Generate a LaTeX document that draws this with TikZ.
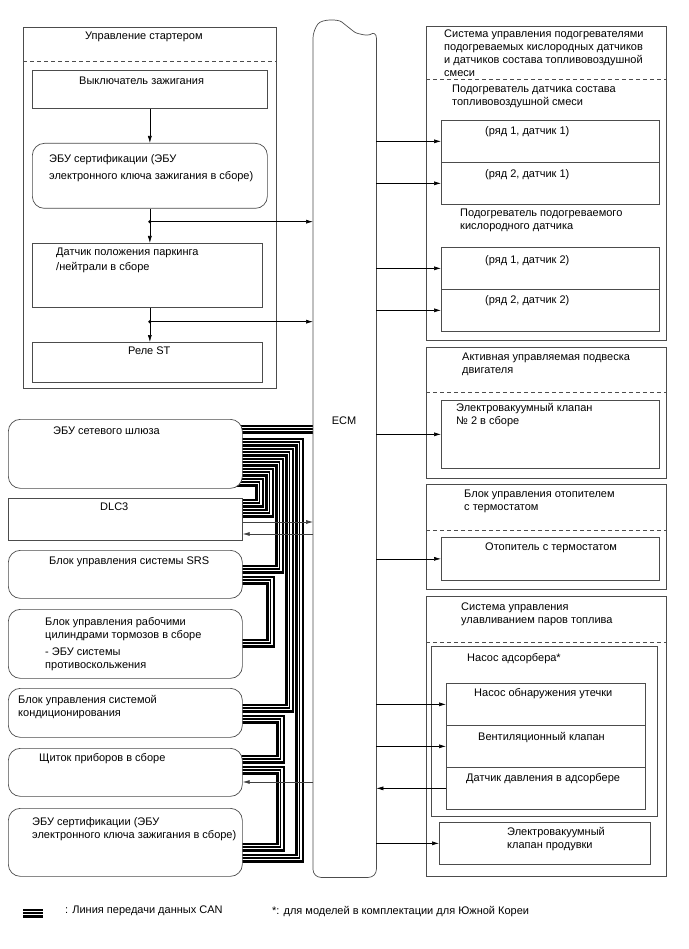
\documentclass[tikz,border=0pt]{standalone}
\usepackage{fontspec}
\setmainfont{Liberation Sans}
\usetikzlibrary{arrows.meta,backgrounds}

\begin{document}
\begin{tikzpicture}[
  x=1pt, y=-1pt,
  font=\fontsize{11}{13}\selectfont,
  box/.style={draw=black!70, line width=0.7pt, fill=white, inner sep=0pt, anchor=north west},
  rbox/.style={box, rounded corners=12pt},
  txt/.style={inner sep=0pt, anchor=north west, align=left},
  divider/.style={draw=black!70, line width=0.7pt, dash pattern=on 4pt off 3pt},
  arrow/.style={-{Latex[length=7pt,width=4pt]}, line width=0.6pt},
  can/.style={line width=9pt, postaction={draw=white, line width=4.4pt},
              postaction={draw=black, line width=1.3pt}}
]
  \useasboundingbox (0,0) rectangle (688,949);

  % starter control
  \node[box, minimum width=253pt, minimum height=361pt] (start) at (23,27) {};
  \node[txt] (start-t) at (85,32) {Управление стартером};
  \draw[divider] ([yshift=-34pt]start.north west) -- ([yshift=-34pt]start.north east);
  \node[box, minimum width=235pt, minimum height=38pt] (ign) at (32,70) {};
  \node[txt] (ign-t) at (79,77) {Выключатель зажигания};
  \node[rbox, minimum width=235pt, minimum height=65pt] (cert1) at (32,143) {};
  \node[txt] (cert1-t) at (49,154) {ЭБУ сертификации (ЭБУ\\[4pt]электронного ключа зажигания в сборе)};
  \node[box, minimum width=230pt, minimum height=64pt] (park) at (32,243) {};
  \node[txt] (park-t) at (56,248) {Датчик положения паркинга\\[2pt]/нейтрали в сборе};
  \node[box, minimum width=230pt, minimum height=40pt] (relay) at (32,342) {};
  \node[txt] (relay-t) at (128,347) {Реле ST};

  % ECM
  \node[inner sep=0pt, minimum width=63pt, minimum height=847pt, anchor=north west] (ecm) at (313,30) {};
  \draw[box, rounded corners=8pt] (ecm.north west) .. controls (322,19) and (338,19) .. (348,27)
    .. controls (357,34) and (368,36) .. (ecm.north east) -- (ecm.south east) -- (ecm.south west) -- cycle;
  \node (ecm-t) at (344,421) {ECM};

  % heater control
  \node[box, minimum width=240pt, minimum height=314pt] (htr) at (426,26) {};
  \node[txt] (htr-t) at (444,30) {Система управления подогревателями\\подогреваемых кислородных датчиков\\и датчиков состава топливовоздушной\\смеси};
  \draw[divider] ([yshift=-53pt]htr.north west) -- ([yshift=-53pt]htr.north east);
  \node[txt] (afs-t) at (452,85) {Подогреватель датчика состава\\топливовоздушной смеси};
  \node[box, minimum width=218pt, minimum height=42pt] (r11) at (441,120) {};
  \node[txt] (r11-t) at (485,126) {(ряд 1, датчик 1)};
  \node[box, minimum width=218pt, minimum height=42pt] (r21) at (441,162) {};
  \node[txt] (r21-t) at (485,169) {(ряд 2, датчик 1)};
  \node[txt] (ho2-t) at (460,209) {Подогреватель подогреваемого\\кислородного датчика};
  \node[box, minimum width=218pt, minimum height=42pt] (r12) at (441,247) {};
  \node[txt] (r12-t) at (485,255) {(ряд 1, датчик 2)};
  \node[box, minimum width=218pt, minimum height=42pt] (r22) at (441,289) {};
  \node[txt] (r22-t) at (485,295) {(ряд 2, датчик 2)};

  % engine mount
  \node[box, minimum width=240pt, minimum height=131pt] (acm) at (426,347) {};
  \node[txt] (acm-t) at (462,353) {Активная управляемая подвеска\\двигателя};
  \draw[divider] ([yshift=-45pt]acm.north west) -- ([yshift=-45pt]acm.north east);
  \node[box, minimum width=218pt, minimum height=68pt] (vsv2) at (441,400) {};
  \node[txt] (vsv2-t) at (456,403) {Электровакуумный клапан\\№ 2 в сборе};

  % thermostat heater
  \node[box, minimum width=240pt, minimum height=105pt] (thc) at (426,484) {};
  \node[txt] (thc-t) at (464,490) {Блок управления отопителем\\с термостатом};
  \draw[divider] ([yshift=-46pt]thc.north west) -- ([yshift=-46pt]thc.north east);
  \node[box, minimum width=218pt, minimum height=43pt] (thh) at (441,537) {};
  \node[txt] (thh-t) at (485,543) {Отопитель с термостатом};

  % evap control
  \node[box, minimum width=240pt, minimum height=280pt] (evap) at (426,596) {};
  \node[txt] (evap-t) at (461,603) {Система управления\\улавливанием паров топлива};
  \draw[divider] ([yshift=-46pt]evap.north west) -- ([yshift=-46pt]evap.north east);
  \node[box, minimum width=226pt, minimum height=170pt] (cpump) at (431,646) {};
  \node[txt] (cpump-t) at (467,653) {Насос адсорбера*};
  \node[box, minimum width=199pt, minimum height=42pt] (leak) at (446,683) {};
  \node[txt] (leak-t) at (474,688) {Насос обнаружения утечки};
  \node[box, minimum width=199pt, minimum height=42pt] (vent) at (446,725) {};
  \node[txt] (vent-t) at (478,732) {Вентиляционный клапан};
  \node[box, minimum width=199pt, minimum height=42pt] (press) at (446,767) {};
  \node[txt] (press-t) at (466,773) {Датчик давления в адсорбере};
  \node[box, minimum width=211pt, minimum height=42pt] (purge) at (439,822) {};
  \node[txt] (purge-t) at (507,827) {Электровакуумный\\клапан продувки};

  % CAN nodes
  \node[rbox, minimum width=234pt, minimum height=69pt] (gw) at (8,419) {};
  \node[txt] (gw-t) at (53,427) {ЭБУ сетевого шлюза};
  \node[box, minimum width=234pt, minimum height=42pt] (dlc) at (8,498) {};
  \node[txt] (dlc-t) at (100,503) {DLC3};
  \node[rbox, minimum width=234pt, minimum height=48pt] (srs) at (8,550) {};
  \node[txt] (srs-t) at (49,557) {Блок управления системы SRS};
  \node[rbox, minimum width=234pt, minimum height=69pt] (abs) at (8,609) {};
  \node[txt] (abs-t) at (45,617) {Блок управления рабочими\\цилиндрами тормозов в сборе\\[4pt]- ЭБУ системы\\противоскольжения};
  \node[rbox, minimum width=234pt, minimum height=49pt] (ac) at (8,688) {};
  \node[txt] (ac-t) at (18,695) {Блок управления системой\\кондиционирования};
  \node[rbox, minimum width=234pt, minimum height=48pt] (meter) at (8,748) {};
  \node[txt] (meter-t) at (39,753) {Щиток приборов в сборе};
  \node[rbox, minimum width=234pt, minimum height=68pt] (cert2) at (8,808) {};
  \node[txt] (cert2-t) at (32,817) {ЭБУ сертификации (ЭБУ\\электронного ключа зажигания в сборе)};

  % legend
  \coordinate (lg-a) at (23,913);
  \coordinate (lg-b) at (43,913);
  \node[txt] (lg-t) at (65,906) {: Линия передачи данных CAN};
  \node[txt] (note) at (272,906) {*: для моделей в комплектации для Южной Кореи};

  % CAN lines
  \begin{scope}[on background layer]
    \coordinate (bus-ecm) at ([xshift=-10pt,yshift=-10pt]gw.north east);
    \draw[can] (bus-ecm) -- (bus-ecm -| ecm.west);
    \draw[can] ([xshift=-10pt,yshift=-23pt]gw.north east) -- ++(67,0) |- ([xshift=-10pt,yshift=-50pt]cert2.north east);
    \draw[can] ([xshift=-10pt,yshift=-33pt]gw.north east) -- ++(57,0) |- ([xshift=-10pt,yshift=-20pt]ac.north east);
    \draw[can] ([xshift=-10pt,yshift=-43pt]gw.north east) -- ++(47,0) |- ([xshift=-10pt,yshift=-19pt]srs.north east);
    \draw[can] ([xshift=-10pt,yshift=-53pt]gw.north east) -- ++(37,0) |- ([xshift=-10pt,yshift=-15pt]dlc.north east);
    \draw[can] ([xshift=-10pt,yshift=-63pt]gw.north east) -- ++(27,0) |- ([xshift=-10pt,yshift=-5pt]dlc.north east);
    \draw[can] ([xshift=-10pt,yshift=-30pt]srs.north east) -- ++(38,0) |- ([xshift=-10pt,yshift=-34pt]abs.north east);
    \draw[can] ([xshift=-10pt,yshift=-31pt]ac.north east) -- ++(48,0) |- ([xshift=-10pt,yshift=-11pt]meter.north east);
    \draw[can] ([xshift=-10pt,yshift=-22pt]meter.north east) -- ++(48,0) |- ([xshift=-10pt,yshift=-39pt]cert2.north east);
    \draw[can] (lg-a) -- (lg-b);
  \end{scope}

  % starter signals
  \draw[arrow] (ign.south) -- (cert1.north);
  \draw[arrow] (cert1.south) -- (cert1.south |- park.north);
  \coordinate (j1) at ([yshift=-13pt]cert1.south);
  \fill (j1) circle (1.8pt);
  \draw[arrow] (j1) -- (j1 -| ecm.west);
  \coordinate (p-out) at (cert1.south |- park.south);
  \draw[arrow] (p-out) -- (p-out |- relay.north);
  \coordinate (j2) at ([yshift=-14pt]p-out);
  \fill (j2) circle (1.8pt);
  \draw[arrow] (j2) -- (j2 -| ecm.west);

  % DLC3 and meter
  \coordinate (dlc-tx) at ([yshift=-24pt]dlc.north east);
  \coordinate (dlc-rx) at ([yshift=-36pt]dlc.north east);
  \coordinate (meter-rx) at ([yshift=-34pt]meter.north east);
  \draw[arrow, black!75] (dlc-tx) -- (dlc-tx -| ecm.west);
  \draw[arrow, black!75] (dlc-rx -| ecm.west) -- (dlc-rx);
  \draw[arrow, black!75] (meter-rx -| ecm.west) -- (meter-rx);

  % ECM outputs
  \draw[arrow] (ecm.east |- r11.west) -- (r11.west);
  \draw[arrow] (ecm.east |- r21.west) -- (r21.west);
  \draw[arrow] (ecm.east |- r12.west) -- (r12.west);
  \draw[arrow] (ecm.east |- r22.west) -- (r22.west);
  \draw[arrow] (ecm.east |- vsv2.west) -- (vsv2.west);
  \draw[arrow] (ecm.east |- thh.west) -- (thh.west);
  \draw[arrow] (ecm.east |- leak.west) -- (leak.west);
  \draw[arrow] (ecm.east |- vent.west) -- (vent.west);
  \draw[arrow] (press.west) -- (ecm.east |- press.west);
  \draw[arrow] (ecm.east |- purge.west) -- (purge.west);
\end{tikzpicture}
\end{document}
